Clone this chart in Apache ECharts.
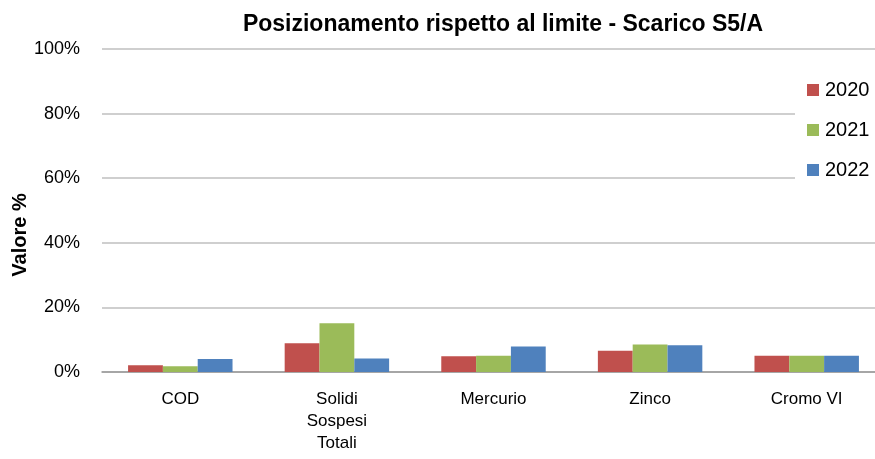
<!DOCTYPE html>
<html><head><meta charset="utf-8">
<script src="https://cdn.jsdelivr.net/npm/echarts@6/dist/echarts.min.js"></script>
<style>html,body{margin:0;padding:0;background:#fff}#c{width:875px;height:459px}</style>
</head><body><div id="c"></div>
<script>
const categories = ['COD', 'Solidi\nSospesi\nTotali', 'Mercurio', 'Zinco', 'Cromo VI'];
const seriesNames = ['2020', '2021', '2022'];
const v2020 = [2.1, 8.9, 4.9, 6.6, 5.0];
const v2021 = [1.8, 15.1, 5.0, 8.5, 5.0];
const v2022 = [4.0, 4.2, 7.9, 8.3, 5.0];
const yTicks = [0, 20, 40, 60, 80, 100];
const colors = ['#c0504d', '#9bbb59', '#4f81bd'];
const values = [v2020, v2021, v2022];
const font = 'Liberation Sans';
const chart = echarts.init(document.getElementById('c'));
chart.setOption({
  animation: false,
  title: {text: 'Posizionamento rispetto al limite - Scarico S5/A', left: 498, top: 8, textAlign: 'center',
    textStyle: {fontFamily: font, fontSize: 23, fontWeight: 'bold', color: '#000'}},
  legend: {orient: 'vertical', left: 795, top: 67, padding: [13, 20, 13, 12], backgroundColor: '#fff',
    itemWidth: 12, itemHeight: 12, itemGap: 20, icon: 'rect', z: 10,
    textStyle: {fontFamily: font, fontSize: 20, lineHeight: 20, color: '#000', padding: [0, 0, 0, 1]},
    data: seriesNames},
  graphic: [{type: 'text', x: 20, y: 235, rotation: Math.PI / 2,
    style: {text: 'Valore %', fontFamily: font, fontSize: 20, fontWeight: 'bold', fill: '#000',
      textAlign: 'center', textVerticalAlign: 'middle'}}],
  grid: {left: 102, width: 783, top: 49, bottom: 87, outerBoundsMode: 'none', containLabel: false},
  xAxis: {type: 'category', data: categories,
    axisLine: {lineStyle: {color: '#999', width: 1.5}}, axisTick: {show: false},
    axisLabel: {fontFamily: font, fontSize: 17, color: '#000', lineHeight: 22, margin: 16}},
  yAxis: {type: 'value', min: 0, max: 100, interval: 20,
    axisLine: {show: false}, axisTick: {show: false},
    splitLine: {lineStyle: {color: '#bfbfbf', width: 1.5}},
    axisLabel: {fontFamily: font, fontSize: 18, color: '#000', margin: 22,
      formatter: v => yTicks.includes(v) ? v + '%' : ''}},
  series: seriesNames.map((n, i) => ({name: n, type: 'bar', data: values[i], barGap: '0%', barCategoryGap: '33.3%',
    itemStyle: {color: colors[i]}}))
});
</script></body></html>
